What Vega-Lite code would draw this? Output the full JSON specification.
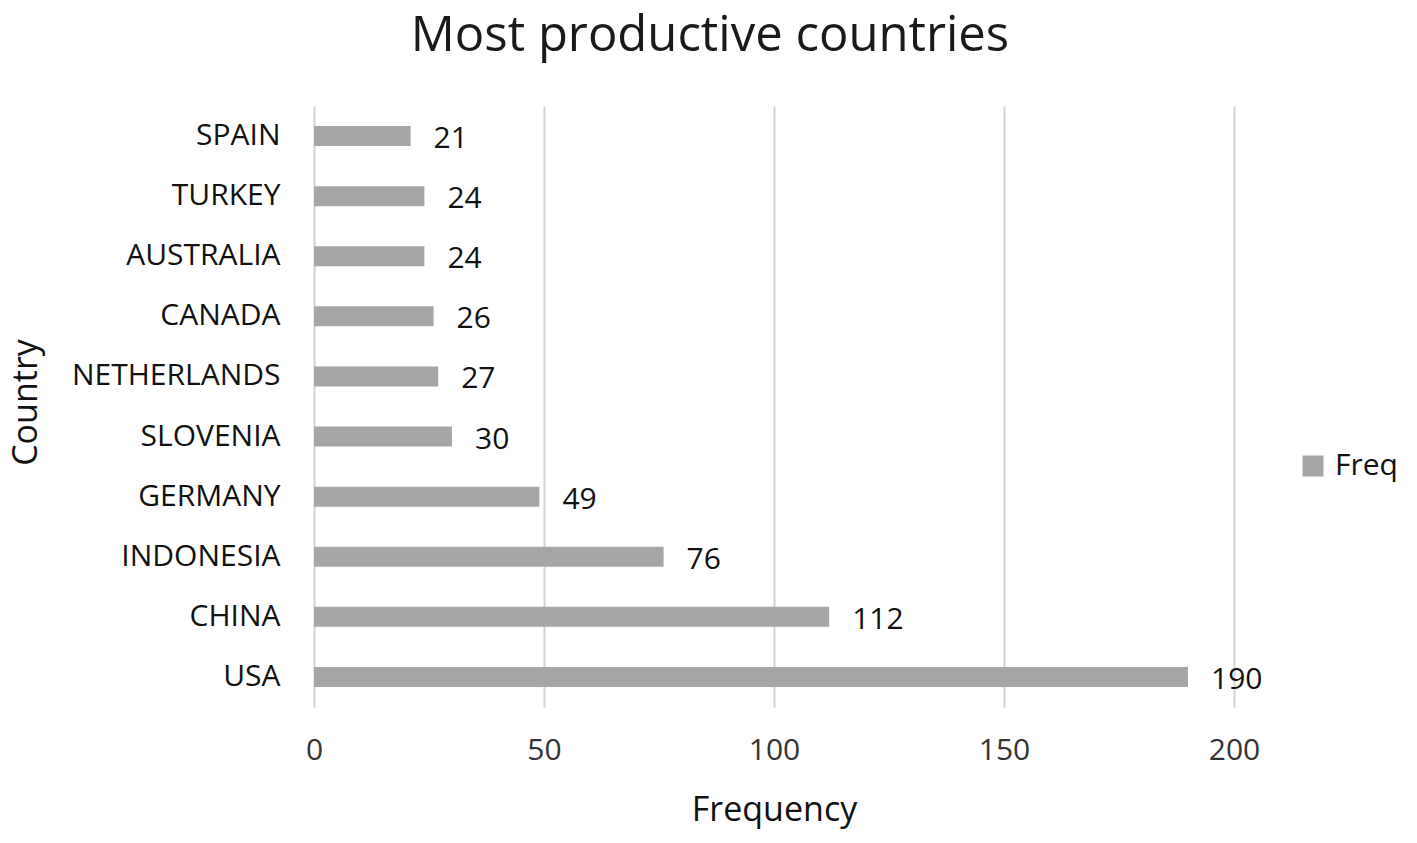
{
  "$schema": "https://vega.github.io/schema/vega-lite/v6.json",
  "autosize": {"type": "none"},
  "width": 920,
  "height": 601,
  "padding": {"left": 314, "top": 106, "right": 183, "bottom": 136},
  "background": "white",
  "title": {
    "text": "Most productive countries",
    "font": "Open Sans",
    "fontSize": 49,
    "fontWeight": "normal",
    "color": "#1a1a1a",
    "anchor": "middle",
    "dx": -64,
    "baseline": "alphabetic",
    "offset": 6
  },
  "config": {
    "view": {"stroke": null},
    "font": "Open Sans",
    "text": {"font": "Open Sans"}
  },
  "data": {
    "values": [
      {"Country": "SPAIN", "Freq": 21},
      {"Country": "TURKEY", "Freq": 24},
      {"Country": "AUSTRALIA", "Freq": 24},
      {"Country": "CANADA", "Freq": 26},
      {"Country": "NETHERLANDS", "Freq": 27},
      {"Country": "SLOVENIA", "Freq": 30},
      {"Country": "GERMANY", "Freq": 49},
      {"Country": "INDONESIA", "Freq": 76},
      {"Country": "CHINA", "Freq": 112},
      {"Country": "USA", "Freq": 190}
    ]
  },
  "encoding": {
    "y": {
      "field": "Country",
      "type": "nominal",
      "sort": ["SPAIN", "TURKEY", "AUSTRALIA", "CANADA", "NETHERLANDS", "SLOVENIA", "GERMANY", "INDONESIA", "CHINA", "USA"],
      "scale": {"paddingInner": 0.66, "paddingOuter": 0.33},
      "axis": {
        "title": "Country",
        "titleFont": "Open Sans",
        "titleFontSize": 34,
        "titleFontWeight": "normal",
        "titleColor": "#111111",
        "titleX": -288,
        "titleY": 296,
        "titleAngle": 270,
        "titleBaseline": "middle",
        "titleAlign": "center",
        "labelFont": "Open Sans",
        "labelFontSize": 30,
        "labelColor": "#111111",
        "labelPadding": 34,
        "labelLimit": 0,
        "ticks": false,
        "domain": false
      }
    },
    "x": {
      "field": "Freq",
      "type": "quantitative",
      "scale": {"domain": [0, 200], "nice": false},
      "axis": {
        "title": "Frequency",
        "values": [0, 50, 100, 150, 200],
        "titleFont": "Open Sans",
        "titleFontSize": 34,
        "titleFontWeight": "normal",
        "titleColor": "#111111",
        "titlePadding": 28,
        "labelFont": "Open Sans",
        "labelFontSize": 30,
        "labelColor": "#333333",
        "labelPadding": 28,
        "labelFlush": false,
        "ticks": false,
        "domain": false,
        "grid": true,
        "gridColor": "#d4d4d4",
        "gridWidth": 2
      }
    }
  },
  "layer": [
    {
      "mark": {"type": "bar", "size": 20},
      "encoding": {
        "color": {
          "datum": "Freq",
          "scale": {"range": ["#a6a6a6"]},
          "legend": {
            "title": null,
            "orient": "none",
            "legendX": 984,
            "legendY": 345,
            "padding": 0,
            "symbolType": "square",
            "symbolSize": 440,
            "symbolStrokeWidth": 0,
            "labelFont": "Open Sans",
            "labelFontSize": 30,
            "labelColor": "#111111",
            "labelOffset": 7
          }
        }
      }
    },
    {
      "mark": {"type": "text", "align": "left", "baseline": "middle", "dx": 23, "dy": 3, "fontSize": 30, "color": "#111111"},
      "encoding": {"text": {"field": "Freq", "type": "quantitative"}}
    }
  ]
}
